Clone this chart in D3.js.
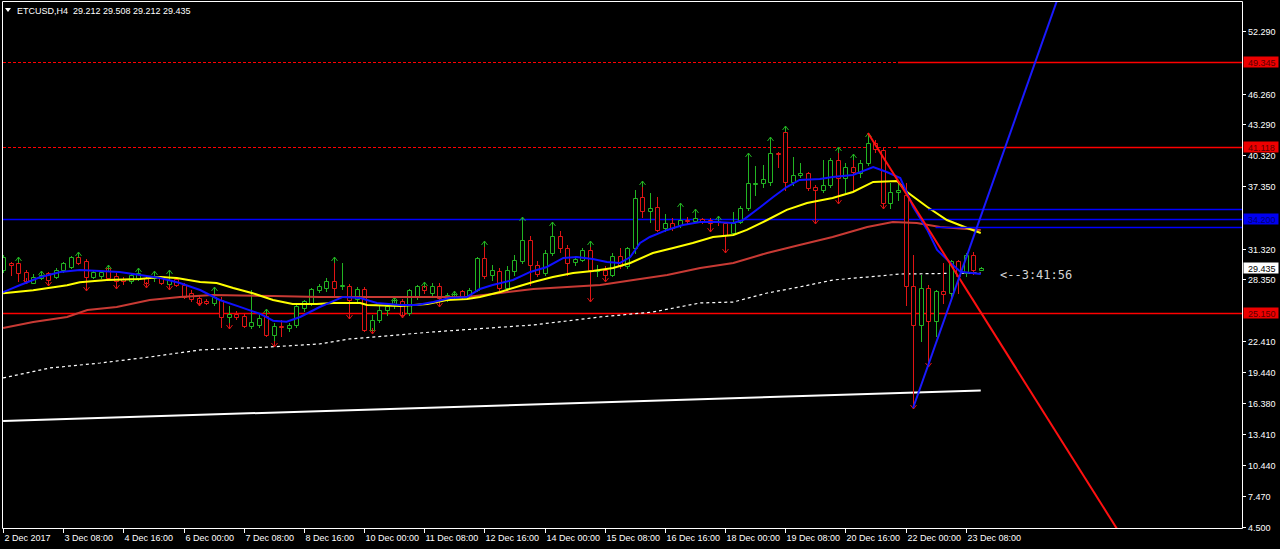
<!DOCTYPE html>
<html><head><meta charset="utf-8">
<script src="https://cdn.jsdelivr.net/npm/d3@7"></script>
<style>html,body{margin:0;padding:0;background:#000;overflow:hidden}</style>
</head><body><svg id="c" width="1280" height="549"></svg>
<script>
// ---- data (ETCUSD H4, bar 0 = 2 Dec 2017 00:00) ----
const opens = [29.26,29.97,29.90,29.10,28.04,28.46,28.94,28.62,29.26,29.58,30.48,30.16,28.62,28.68,29.42,28.68,28.36,28.23,28.46,28.46,28.43,28.55,27.91,28.36,27.82,27.01,26.53,26.30,26.05,26.37,24.70,25.02,24.77,23.87,23.96,24.77,23.00,23.87,23.64,23.96,25.58,26.06,27.34,27.50,28.21,27.70,27.73,26.44,27.41,23.49,24.45,25.42,25.90,26.22,25.10,26.70,27.73,27.02,27.73,26.38,26.70,27.18,26.70,27.34,30.39,28.79,29.11,27.50,29.11,30.07,32.16,29.75,28.95,30.87,32.48,31.36,29.98,30.23,31.20,29.20,29.27,28.79,30.55,29.59,31.35,36.26,34.98,35.30,33.28,33.82,33.60,34.10,34.00,34.18,34.08,33.95,33.76,32.80,33.92,35.20,37.55,37.61,37.77,40.50,42.60,37.77,38.41,38.64,37.29,36.97,37.45,39.86,38.09,39.15,38.64,39.54,41.46,40.82,35.75,36.81,36.49,27.66,23.97,27.50,24.29,27.18,27.02,30.07,28.94,30.71,29.212];
const highs = [30.70,30.03,30.45,29.26,28.90,29.10,29.10,29.42,30.06,30.61,30.85,30.32,29.26,29.20,29.65,28.94,28.55,29.00,29.35,28.68,29.10,28.68,29.15,28.55,28.04,27.33,26.75,26.45,27.55,26.69,25.73,25.25,25.02,27.33,24.93,25.35,24.12,24.44,24.12,25.89,26.37,27.50,27.90,28.47,30.45,29.91,27.92,27.60,27.60,24.93,25.80,26.06,26.54,26.44,27.41,27.82,28.00,27.98,27.98,27.02,27.15,27.34,27.50,30.49,31.95,29.75,29.43,29.59,30.71,34.30,32.48,30.07,31.20,33.75,32.96,31.68,30.55,31.36,31.95,29.75,29.59,30.87,31.35,31.51,36.97,37.74,36.65,36.26,34.66,34.24,35.60,34.40,35.00,34.24,34.24,34.40,33.92,34.88,35.43,40.40,39.28,39.38,42.00,40.66,43.00,40.18,39.54,38.73,37.45,39.86,40.02,41.00,39.54,40.30,39.86,42.40,41.78,40.98,37.61,37.77,37.61,30.71,28.78,27.80,27.30,29.91,30.23,30.23,30.87,31.03,29.508];
const lows = [29.10,28.78,28.14,27.98,27.98,28.36,27.82,28.46,29.10,29.42,29.84,27.33,28.46,28.50,28.36,27.50,27.91,28.04,28.30,27.60,28.20,27.91,27.40,27.66,26.53,26.30,25.89,25.98,25.89,23.74,23.70,24.50,23.74,23.64,23.74,22.84,21.88,22.84,23.32,23.74,25.25,25.89,27.10,27.18,26.70,27.40,24.61,26.22,23.33,23.15,24.20,24.93,25.58,24.71,24.93,26.44,27.02,26.86,25.80,26.22,26.54,26.54,26.54,27.18,28.47,28.31,27.02,27.34,28.79,29.91,27.83,28.63,28.79,30.71,31.03,28.79,29.75,30.07,26.22,28.63,28.15,28.63,29.43,29.43,30.87,34.40,33.92,32.96,32.96,33.12,33.44,33.76,33.92,33.76,33.05,33.60,31.03,32.64,33.76,35.04,36.49,37.29,37.45,39.22,36.97,37.45,38.25,36.97,33.76,36.81,37.29,35.68,36.81,36.97,38.25,39.38,40.66,35.20,35.20,36.00,25.90,15.94,22.36,19.96,22.84,26.05,26.38,27.02,28.63,28.87,29.212];
const closes = [30.54,29.74,28.94,28.14,28.62,28.78,28.30,29.26,29.90,30.48,29.97,28.55,29.10,29.10,28.46,28.14,28.23,28.78,28.94,27.98,28.68,28.04,28.30,27.82,26.69,26.43,26.05,26.11,26.63,24.70,25.02,24.70,23.87,24.19,24.60,23.00,23.87,23.74,23.96,25.73,26.22,27.41,27.73,28.21,27.50,27.85,26.38,27.41,23.49,24.45,25.42,25.80,26.38,24.93,27.34,27.66,27.28,27.73,26.54,26.86,26.95,26.70,27.34,30.39,28.63,29.27,27.50,29.27,30.23,32.16,29.75,28.88,30.87,32.48,31.36,29.91,30.30,31.20,29.27,29.27,28.79,30.55,29.59,31.35,36.17,34.98,35.27,33.12,33.82,33.28,34.08,34.00,34.24,33.92,33.76,33.90,32.64,33.76,35.20,37.61,37.68,38.00,40.50,40.45,37.77,38.41,38.64,37.13,36.97,37.45,39.86,38.09,39.22,38.73,39.54,41.46,40.89,35.68,36.81,36.97,27.66,23.97,27.50,24.29,27.18,26.95,30.07,28.63,30.71,29.21,29.435];

const upFractals = [2,5,10,14,18,20,22,28,35,44,52,56,60,64,69,73,78,85,90,92,95,99,102,104,111,113,115];
const downFractals = [3,6,11,15,19,22,26,30,36,46,49,53,58,78,80,94,96,108,111,117,121,123];

// moving averages (bar index, price)
const maBlueBars = [0,2.2,4.9,7.6,10.2,12.9,15.5,18.2,20.9,23.5,26.2,28.8,31.5,34.2,35.9,37.7,39.5,42.1,45.2,47.5,49.7,52.8,55.0,57.2,59.4,61.7,63.4,65.1,67.8,70.1,72.3,74.5,76.3,78.4,80.3,82.0,83.4,84.7,86.0,88.3,90.4,92.7,94.9,97.1,98.4,100.7,102.4,104.2,105.9,108.6,110.3,113.0,115.7,117.5,119.3,121.0,122.9,124.2,126.0,127.3,130];
const maBlueVals = [27.11,27.78,28.55,29.05,29.24,29.15,29.05,28.76,28.47,27.99,27.32,26.36,25.69,25.01,24.36,24.26,24.72,25.68,26.65,26.55,26.07,25.87,25.87,26.16,26.55,26.65,27.42,27.80,28.29,29.06,29.54,30.41,30.50,30.31,30.02,29.92,30.50,31.85,32.43,33.11,33.59,33.88,33.88,33.78,34.07,35.32,36.29,37.25,37.93,38.02,38.22,38.41,39.18,38.70,38.12,35.35,33.10,31.18,29.93,29.08,28.86];
const maYellowBars = [0,4.0,8.5,10.2,13.8,18.2,20.9,23.1,26.2,28.4,30.6,33.2,35.9,38.5,41.7,43.9,47.5,48.4,52.8,56.4,59.0,61.7,63.4,66.1,68.7,70.5,73.1,75.8,78.4,81.1,83.4,86.4,89.1,91.7,94.4,97.1,98.9,101.6,104.2,106.9,110.3,113.0,115.7,118.9,120.2,122.9,125.5,128.2,130];
const maYellowVals = [27.01,27.30,27.78,28.07,28.28,28.38,28.57,28.47,28.09,27.99,27.51,27.01,26.36,25.97,25.97,26.07,26.07,25.87,25.78,25.97,26.36,26.45,26.65,27.13,27.71,28.09,28.57,28.96,29.15,29.44,29.92,30.89,31.37,31.85,32.43,32.63,33.11,34.07,35.04,35.71,36.19,36.77,37.74,37.83,36.77,35.32,34.07,33.30,32.82];
const maRedBars = [0,4.0,8.5,11.2,15.1,19.5,23.5,27.9,35.9,42.1,50.1,61.7,66.1,70.5,75.0,79.4,83.8,88.3,92.7,97.1,101.6,105.9,110.3,114.9,118.3,121.5,124.6,130];
const maRedVals = [23.66,24.24,24.72,25.39,25.68,26.36,26.65,26.84,26.74,26.65,26.65,26.65,27.03,27.42,27.61,27.80,28.28,28.76,29.44,29.92,30.89,31.66,32.43,33.40,33.88,33.78,33.40,33.11];
const maSlowBars = [0,6.2,12.9,19.5,26.2,35.5,42.1,46.1,57.2,70.5,79.4,86.4,92.7,97.1,101.6,105.9,110.3,114.9,119.3,130];
const maSlowVals = [18.84,19.80,20.28,20.86,21.54,21.83,22.12,22.60,23.28,23.95,24.72,25.20,26.07,26.16,27.03,27.61,28.28,28.57,28.86,28.96];

// horizontal levels
const dottedRedLevels = [49.345, 41.118];
const redRayStartBar = [119, 119];
const solidRedLevels = [25.150];
const solidBlueLevels = [34.200];
const blueRayLevels = [35.10, 33.42];
const blueRayStartBar = [123, 124];

// trend lines [bar, price] anchors
const whiteTrend = [[0,14.69],[130,17.63]];
const redTrend = [[115,42.46],[127,28.63]];
const blueTrend = [[121,15.94],[129,32.36]];

const priceTicks = [52.290,46.260,43.290,40.320,37.350,31.320,28.350,22.410,19.440,16.380,13.410,10.440,7.470,4.500];
const timeLabelBars = [0,8,16,24,32,40,48,56,64,72,80,88,96,104,112,120,128];
const timeLabels = ["2 Dec 2017","3 Dec 08:00","4 Dec 16:00","6 Dec 00:00","7 Dec 08:00","8 Dec 16:00","10 Dec 00:00","11 Dec 08:00","12 Dec 16:00","14 Dec 00:00","15 Dec 08:00","16 Dec 16:00","18 Dec 00:00","19 Dec 08:00","20 Dec 16:00","22 Dec 00:00","23 Dec 08:00"];
const priceLabels = [{v:49.345,bg:"#ee0000",fg:"#5a0000"},{v:41.118,bg:"#ee0000",fg:"#5a0000"},{v:34.200,bg:"#0000f0",fg:"#000070"},{v:29.435,bg:"#ffffff",fg:"#000000"},{v:25.150,bg:"#ee0000",fg:"#5a0000"}];
const headerText = "ETCUSD,H4  29.212 29.508 29.212 29.435";
const countdownText = "<--3:41:56";

// ---- drawing ----
const svg = d3.select("#c");
const x = d3.scaleLinear().domain([0,128]).range([3.1,965.7]);
const y = d3.scaleLinear().domain([4.5,52.29]).range([526.7,31]);
const px = v => Math.round(v)+0.5;
const FONT = "'Liberation Sans', Arial, sans-serif";
const GREEN = "#22b422", RED = "#e01414";
const LRED = "#ff0000", LBLUE = "#0000ff";

svg.append("rect").attr("width",1280).attr("height",549).attr("fill","#000");
svg.append("defs").append("clipPath").attr("id","pc").append("rect")
  .attr("x",3).attr("y",2).attr("width",1239.5).attr("height",526.5);
const plot = svg.append("g").attr("clip-path","url(#pc)");
const xL = 3, xR = 1242.5;

// horizontal levels
dottedRedLevels.forEach((v,k)=>{
  const yy = px(y(v));
  plot.append("line").attr("x1",xL).attr("x2",xR).attr("y1",yy).attr("y2",yy)
    .attr("stroke",LRED).attr("stroke-width",1.2).attr("stroke-dasharray","3,2");
  plot.append("line").attr("x1",x(redRayStartBar[k])).attr("x2",xR).attr("y1",yy).attr("y2",yy)
    .attr("stroke",LRED).attr("stroke-width",1.6);
});
solidRedLevels.forEach(v=>{
  const yy = px(y(v));
  plot.append("line").attr("x1",xL).attr("x2",xR).attr("y1",yy).attr("y2",yy).attr("stroke",LRED).attr("stroke-width",1.6);
});
solidBlueLevels.forEach(v=>{
  const yy = px(y(v));
  plot.append("line").attr("x1",xL).attr("x2",xR).attr("y1",yy).attr("y2",yy).attr("stroke",LBLUE).attr("stroke-width",1.6);
});

// slow MA (dotted white) and white trend line
const lineGen = d3.line().x(d=>x(d[0])).y(d=>y(d[1]));
plot.append("path").attr("d",lineGen(maSlowBars.map((b,i)=>[b,maSlowVals[i]])))
  .attr("fill","none").attr("stroke","#ffffff").attr("stroke-width",1.2).attr("stroke-dasharray","3,3");
plot.append("path").attr("d",lineGen(whiteTrend)).attr("fill","none").attr("stroke","#ffffff").attr("stroke-width",2);

// candles
const cg = plot.append("g");
opens.forEach((o,i)=>{
  const c = closes[i], h = highs[i], l = lows[i];
  const col = c >= o ? GREEN : RED;
  const cx = px(x(i));
  cg.append("line").attr("x1",cx).attr("x2",cx).attr("y1",Math.round(y(h))).attr("y2",Math.round(y(l))+1)
    .attr("stroke",col).attr("stroke-width",1);
  const yt = px(y(Math.max(o,c))), yb = px(y(Math.min(o,c)));
  cg.append("path").attr("d",`M${cx-2},${yt}H${cx+2}V${yb}H${cx-2}Z`)
    .attr("fill","#000").attr("stroke",col).attr("stroke-width",1);
});
// fractal arrows
upFractals.forEach(i=>{
  const cx = px(x(i)), yy = Math.round(y(highs[i]))-1;
  cg.append("path").attr("d",`M${cx-3},${yy+4}L${cx},${yy}L${cx+3},${yy+4}M${cx},${yy}V${yy+6}`)
    .attr("fill","none").attr("stroke",GREEN).attr("stroke-width",1);
});
downFractals.forEach(i=>{
  const cx = px(x(i)), yy = Math.round(y(lows[i]))+1;
  cg.append("path").attr("d",`M${cx-3},${yy-4}L${cx},${yy}L${cx+3},${yy-4}M${cx},${yy}V${yy-6}`)
    .attr("fill","none").attr("stroke",RED).attr("stroke-width",1);
});

// moving averages
plot.append("path").attr("d",lineGen(maRedBars.map((b,i)=>[b,maRedVals[i]])))
  .attr("fill","none").attr("stroke","#c83a34").attr("stroke-width",2);
plot.append("path").attr("d",lineGen(maYellowBars.map((b,i)=>[b,maYellowVals[i]])))
  .attr("fill","none").attr("stroke","#ffff00").attr("stroke-width",2);
plot.append("path").attr("d",lineGen(maBlueBars.map((b,i)=>[b,maBlueVals[i]])))
  .attr("fill","none").attr("stroke","#1010ff").attr("stroke-width",2);

// blue short rays
blueRayLevels.forEach((v,k)=>{
  const yy = px(y(v));
  plot.append("line").attr("x1",x(blueRayStartBar[k])).attr("x2",xR).attr("y1",yy).attr("y2",yy)
    .attr("stroke",LBLUE).attr("stroke-width",1.6);
});

// trend rays
function ray(a, b, toBar){
  const s = (b[1]-a[1])/(b[0]-a[0]);
  return [a,[toBar, a[1]+s*(toBar-a[0])]];
}
plot.append("path").attr("d",lineGen(ray(redTrend[0],redTrend[1],175))).attr("fill","none").attr("stroke","#ff1010").attr("stroke-width",2);
plot.append("path").attr("d",lineGen(ray(blueTrend[0],blueTrend[1],150))).attr("fill","none").attr("stroke","#1a1aff").attr("stroke-width",2);

// countdown text
svg.append("text").attr("x",1000).attr("y",279).attr("fill","#d4d4d4")
  .attr("font-family","'DejaVu Sans Mono', monospace").attr("font-size",12).text(countdownText);

// border & axes
svg.append("path").attr("d","M2.5,528.5V1.5H1242.5V528.5H2.5").attr("fill","none").attr("stroke","#ffffff").attr("stroke-width",1);
const ax = svg.append("g").attr("font-family",FONT).attr("font-size",9).attr("fill","#ffffff");
priceTicks.forEach(v=>{
  const yy = px(y(v));
  ax.append("line").attr("x1",1242.5).attr("x2",1246).attr("y1",yy).attr("y2",yy).attr("stroke","#fff");
  ax.append("text").attr("x",1248).attr("y",yy+3.5).text(v.toFixed(3));
});
timeLabelBars.forEach((b,k)=>{
  const xx = px(x(b));
  ax.append("line").attr("x1",xx).attr("x2",xx).attr("y1",528.5).attr("y2",533).attr("stroke","#fff");
  ax.append("text").attr("x",xx+1).attr("y",541).text(timeLabels[k]);
});
priceLabels.forEach(p=>{
  const yy = Math.round(y(p.v));
  ax.append("rect").attr("x",1243.5).attr("y",yy-5.5).attr("width",35).attr("height",11).attr("fill",p.bg);
  ax.append("text").attr("x",1248).attr("y",yy+3.5).attr("fill",p.fg).text(p.v.toFixed(3));
});

// header
svg.append("path").attr("d","M5,8H11L8,12Z").attr("fill","#fff");
svg.append("text").attr("x",17).attr("y",13.5).attr("fill","#fff").attr("font-family",FONT).attr("font-size",9)
  .attr("xml:space","preserve").style("white-space","pre").text(headerText);
</script></body></html>
